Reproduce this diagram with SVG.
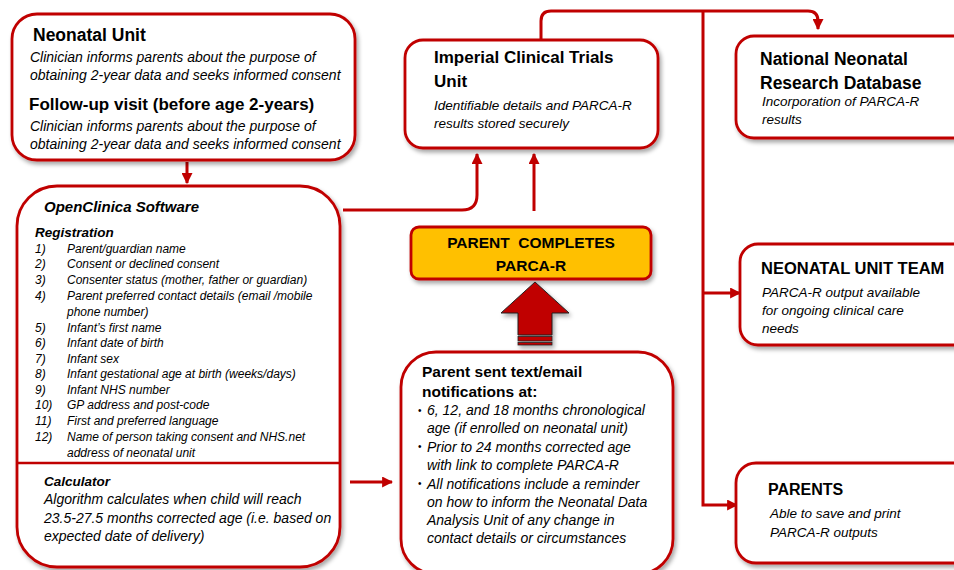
<svg xmlns="http://www.w3.org/2000/svg" width="954" height="570" viewBox="0 0 954 570">
<defs>
<filter id="sh" x="-10%" y="-10%" width="130%" height="130%">
<feDropShadow dx="2" dy="3" stdDeviation="2" flood-color="#000" flood-opacity="0.35"/>
</filter>
<marker id="ah" viewBox="0 0 10 10" refX="9" refY="5" markerWidth="11" markerHeight="11" markerUnits="userSpaceOnUse" orient="auto">
<path d="M0,0 L10,5 L0,10 z" fill="#C00000"/>
</marker>
<style>
.box{fill:#fff;stroke:#C00000;stroke-width:2.8;filter:url(#sh)}
.conn{fill:none;stroke:#C00000;stroke-width:3}
text{font-family:"Liberation Sans",Arial,sans-serif;fill:#000}
.b{font-weight:bold}
.i{font-style:italic}
.bi{font-weight:bold;font-style:italic}
</style>
</defs>
<rect width="954" height="570" fill="#fff"/>

<g id="connectors">
<path class="conn" d="M187,162 V183" marker-end="url(#ah)"/>
<path class="conn" d="M343,210 H462 Q477,210 477,195 V154" marker-end="url(#ah)"/>
<path class="conn" d="M534,211 V154" marker-end="url(#ah)"/>
<path class="conn" d="M541,40 V21 Q541,11 551,11 H808 Q818,11 818,21 V29" marker-end="url(#ah)"/>
<path class="conn" d="M703,11 V505 H737" marker-end="url(#ah)"/>
<path class="conn" d="M703,293 H740" marker-end="url(#ah)"/>
<path class="conn" d="M350,482 H392" marker-end="url(#ah)"/>
</g>

<g id="neonatal-unit">
<rect class="box" x="12" y="14" width="343" height="146" rx="25"/>
<text class="b" x="33" y="41" font-size="17.5">Neonatal Unit</text>
<text class="i" x="30" y="62" font-size="14">Clinician informs parents about the purpose of</text>
<text class="i" x="30" y="80" font-size="14">obtaining 2-year data and seeks informed consent</text>
<text class="b" x="29" y="110" font-size="17">Follow-up visit (before age 2-years)</text>
<text class="i" x="30" y="131" font-size="14">Clinician informs parents about the purpose of</text>
<text class="i" x="30" y="149" font-size="14">obtaining 2-year data and seeks informed consent</text>
</g>

<g id="openclinica">
<rect class="box" x="17" y="186" width="323" height="381" rx="40"/>
<line x1="17" y1="463" x2="340" y2="463" stroke="#C00000" stroke-width="2.5"/>
<text class="bi" x="44" y="212" font-size="15">OpenClinica Software</text>
<text class="bi" x="35" y="237" font-size="13.5">Registration</text>
<g class="i" font-size="12">
<text x="35" y="253">1)</text><text x="67" y="253">Parent/guardian name</text>
<text x="35" y="268">2)</text><text x="67" y="268">Consent or declined consent</text>
<text x="35" y="284">3)</text><text x="67" y="284">Consenter status (mother, father or guardian)</text>
<text x="35" y="300">4)</text><text x="67" y="300">Parent preferred contact details (email /mobile</text>
<text x="67" y="316">phone number)</text>
<text x="35" y="332">5)</text><text x="67" y="332">Infant’s first name</text>
<text x="35" y="347">6)</text><text x="67" y="347">Infant date of birth</text>
<text x="35" y="363">7)</text><text x="67" y="363">Infant sex</text>
<text x="35" y="378">8)</text><text x="67" y="378">Infant gestational age at birth (weeks/days)</text>
<text x="35" y="394">9)</text><text x="67" y="394">Infant NHS number</text>
<text x="35" y="409">10)</text><text x="67" y="409">GP address and post-code</text>
<text x="35" y="425">11)</text><text x="67" y="425">First and preferred language</text>
<text x="35" y="441">12)</text><text x="67" y="441">Name of person taking consent and NHS.net</text>
<text x="67" y="457">address of neonatal unit</text>
</g>
<text class="bi" x="44" y="486" font-size="13.5">Calculator</text>
<text class="i" x="44" y="504" font-size="14">Algorithm calculates when child will reach</text>
<text class="i" x="44" y="523" font-size="14">23.5-27.5 months corrected age (i.e. based on</text>
<text class="i" x="44" y="541" font-size="14">expected date of delivery)</text>
</g>

<g id="imperial">
<rect class="box" x="405" y="40" width="253" height="108" rx="18"/>
<text class="b" x="434" y="63" font-size="17">Imperial Clinical Trials</text>
<text class="b" x="434" y="87" font-size="17">Unit</text>
<text class="i" x="434" y="110" font-size="13.5">Identifiable details and PARCA-R</text>
<text class="i" x="434" y="128" font-size="13.5">results stored securely</text>
</g>

<g id="national-database">
<rect class="box" x="736" y="36" width="250" height="102" rx="18"/>
<text class="b" x="760" y="65" font-size="17.5">National Neonatal</text>
<text class="b" x="760" y="89" font-size="17.5">Research Database</text>
<text class="i" x="762" y="106" font-size="13.5">Incorporation of PARCA-R</text>
<text class="i" x="762" y="124" font-size="13.5">results</text>
</g>

<g id="parent-completes">
<rect x="411" y="227" width="240" height="52" rx="8" fill="#FFC000" stroke="#C00000" stroke-width="2.8" filter="url(#sh)"/>
<text class="b" x="531" y="248" font-size="15.5" text-anchor="middle" xml:space="preserve">PARENT  COMPLETES</text>
<text class="b" x="531" y="271" font-size="15.5" text-anchor="middle">PARCA-R</text>
</g>

<g id="block-arrow" filter="url(#sh)">
<polygon points="535,282 569,313 552,313 552,335 518,335 518,313 501,313" fill="#C00000" stroke="#222" stroke-width="1"/>
<rect x="518" y="336.5" width="34" height="4.5" fill="#C00000" stroke="#222" stroke-width="0.8"/>
<rect x="518" y="342.5" width="34" height="2.5" fill="#C00000" stroke="#222" stroke-width="0.8"/>
</g>

<g id="parent-notifications">
<rect class="box" x="401" y="352" width="272" height="222" rx="35"/>
<text class="b" x="422" y="377" font-size="15.5">Parent sent text/email</text>
<text class="b" x="422" y="397" font-size="15.5">notifications at:</text>
<g font-size="10"><text x="418" y="414">•</text><text x="418" y="450">•</text><text x="418" y="487">•</text></g>
<g class="i" font-size="14">
<text x="427" y="415">6, 12, and 18 months chronological</text>
<text x="427" y="433">age (if enrolled on neonatal unit)</text>
<text x="427" y="452">Prior to 24 months corrected age</text>
<text x="427" y="470">with link to complete PARCA-R</text>
<text x="427" y="489">All notifications include a reminder</text>
<text x="427" y="507">on how to inform the Neonatal Data</text>
<text x="427" y="525">Analysis Unit of any change in</text>
<text x="427" y="543">contact details or circumstances</text>
</g>
</g>

<g id="neonatal-unit-team">
<rect class="box" x="740" y="244" width="250" height="101" rx="18"/>
<text class="b" x="761" y="274" font-size="16.5">NEONATAL UNIT TEAM</text>
<text class="i" x="762" y="297" font-size="13.5">PARCA-R output available</text>
<text class="i" x="762" y="315" font-size="13.5">for ongoing clinical care</text>
<text class="i" x="762" y="333" font-size="13.5">needs</text>
</g>

<g id="parents">
<rect class="box" x="736" y="463" width="250" height="100" rx="20"/>
<text class="b" x="768" y="495" font-size="16">PARENTS</text>
<text class="i" x="770" y="518" font-size="13.5">Able to save and print</text>
<text class="i" x="770" y="537" font-size="13.5">PARCA-R outputs</text>
</g>
</svg>
